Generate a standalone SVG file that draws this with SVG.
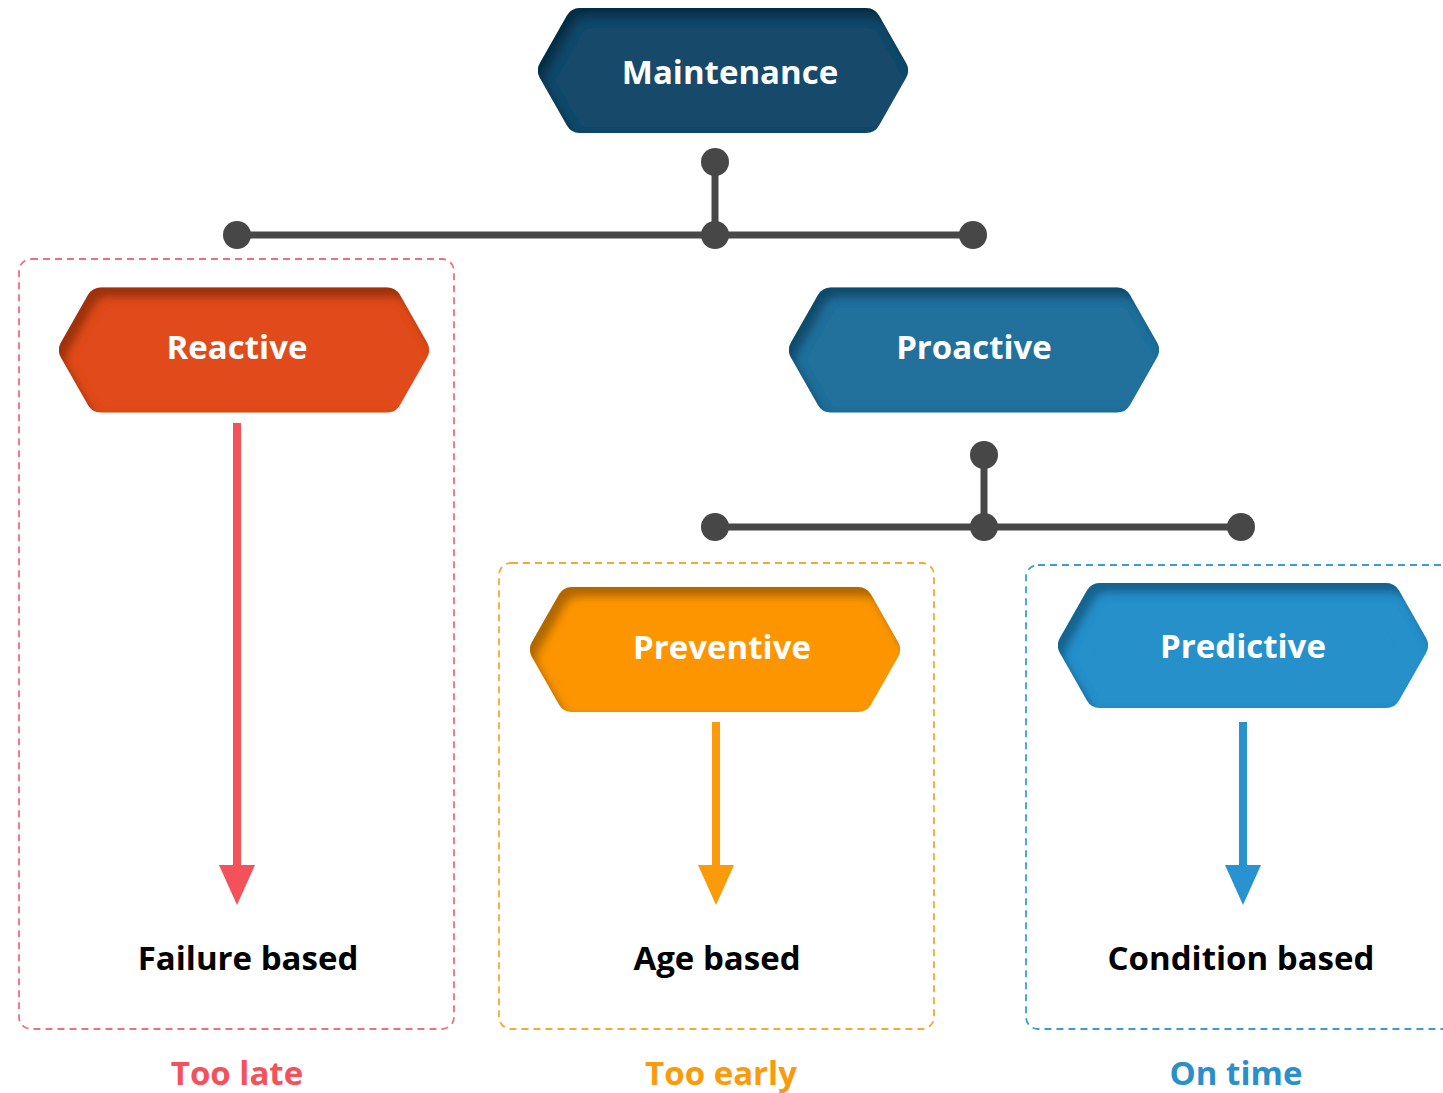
<svg xmlns="http://www.w3.org/2000/svg" xmlns:xlink="http://www.w3.org/1999/xlink" width="1443" height="1093" viewBox="0 0 1443 1093">
<style>
.lbl{font-family:"Open Sans","Liberation Sans",sans-serif;font-weight:700;font-size:33px;text-anchor:middle}
.w{fill:#ffffff}
.k{fill:#000000}
.box{fill:none;stroke-width:1.8;stroke-dasharray:7 5}
.wire{stroke:#474747;stroke-width:7;fill:none}
.dot{fill:#474747}
</style>
<defs>
<polygon id="hex" points="-170,0 -143,-47.5 143,-47.5 170,0 143,47.5 -143,47.5" stroke-width="30" stroke-linejoin="round"/>
<filter id="inset" x="-10%" y="-20%" width="120%" height="140%">
<feOffset in="SourceAlpha" dx="7" dy="10" result="o"/>
<feGaussianBlur in="o" stdDeviation="4.5" result="b"/>
<feComposite in="SourceAlpha" in2="b" operator="out" result="edge"/>
<feFlood flood-color="#000" flood-opacity="0.55"/>
<feComposite in2="edge" operator="in" result="shadow"/>
<feMerge><feMergeNode in="SourceGraphic"/><feMergeNode in="shadow"/></feMerge>
</filter>
</defs>
<rect width="1443" height="1093" fill="#ffffff"/>

<g id="boxes">
<rect class="box" x="19" y="259" width="435" height="770" rx="12" stroke="#f0707a"/>
<rect class="box" x="499" y="563" width="435" height="466" rx="12" stroke="#f6a833"/>
<rect class="box" x="1026" y="565" width="440" height="464" rx="12" stroke="#3d9bd6"/>
</g>

<g id="connectors">
<line class="wire" x1="715" y1="162" x2="715" y2="235"/>
<line class="wire" x1="237" y1="235" x2="973" y2="235"/>
<circle class="dot" cx="715" cy="162" r="14"/>
<circle class="dot" cx="237" cy="235" r="14"/>
<circle class="dot" cx="715" cy="235" r="14"/>
<circle class="dot" cx="973" cy="235" r="14"/>
<line class="wire" x1="984" y1="455" x2="984" y2="527"/>
<line class="wire" x1="715" y1="527" x2="1241" y2="527"/>
<circle class="dot" cx="984" cy="455" r="14"/>
<circle class="dot" cx="715" cy="527" r="14"/>
<circle class="dot" cx="984" cy="527" r="14"/>
<circle class="dot" cx="1241" cy="527" r="14"/>
<line x1="237" y1="423" x2="237" y2="868" stroke="#f4525b" stroke-width="8"/>
<polygon points="219,865 255,865 237,905" fill="#f4525b"/>
<line x1="716" y1="722" x2="716" y2="868" stroke="#fb9a0a" stroke-width="8"/>
<polygon points="698,865 734,865 716,905" fill="#fb9a0a"/>
<line x1="1243" y1="722" x2="1243" y2="868" stroke="#2893d0" stroke-width="8"/>
<polygon points="1225,865 1261,865 1243,905" fill="#2893d0"/>
</g>

<g id="maintenance">
<use xlink:href="#hex" transform="translate(723,70.5)" fill="#18496b" stroke="#18496b" filter="url(#inset)"/>
<text class="lbl w" x="730" y="84">Maintenance</text>
</g>
<g id="reactive">
<use xlink:href="#hex" transform="translate(244,350)" fill="#e14b1b" stroke="#e14b1b" filter="url(#inset)"/>
<text class="lbl w" x="237" y="359">Reactive</text>
</g>
<g id="proactive">
<use xlink:href="#hex" transform="translate(974,350)" fill="#22709c" stroke="#22709c" filter="url(#inset)"/>
<text class="lbl w" x="974" y="359">Proactive</text>
</g>
<g id="preventive">
<use xlink:href="#hex" transform="translate(715,649.5)" fill="#fc9500" stroke="#fc9500" filter="url(#inset)"/>
<text class="lbl w" x="722" y="659">Preventive</text>
</g>
<g id="predictive">
<use xlink:href="#hex" transform="translate(1243,645.5)" fill="#2590cb" stroke="#2590cb" filter="url(#inset)"/>
<text class="lbl w" x="1243" y="658">Predictive</text>
</g>

<g id="failure-based"><text class="lbl k" x="248" y="970">Failure based</text></g>
<g id="age-based"><text class="lbl k" x="717" y="970">Age based</text></g>
<g id="condition-based"><text class="lbl k" x="1241" y="970">Condition based</text></g>
<g id="too-late"><text class="lbl" x="237" y="1085" fill="#f4525b">Too late</text></g>
<g id="too-early"><text class="lbl" x="721" y="1085" fill="#fb9a0a">Too early</text></g>
<g id="on-time"><text class="lbl" x="1236" y="1085" fill="#2a8fcb">On time</text></g>
</svg>
